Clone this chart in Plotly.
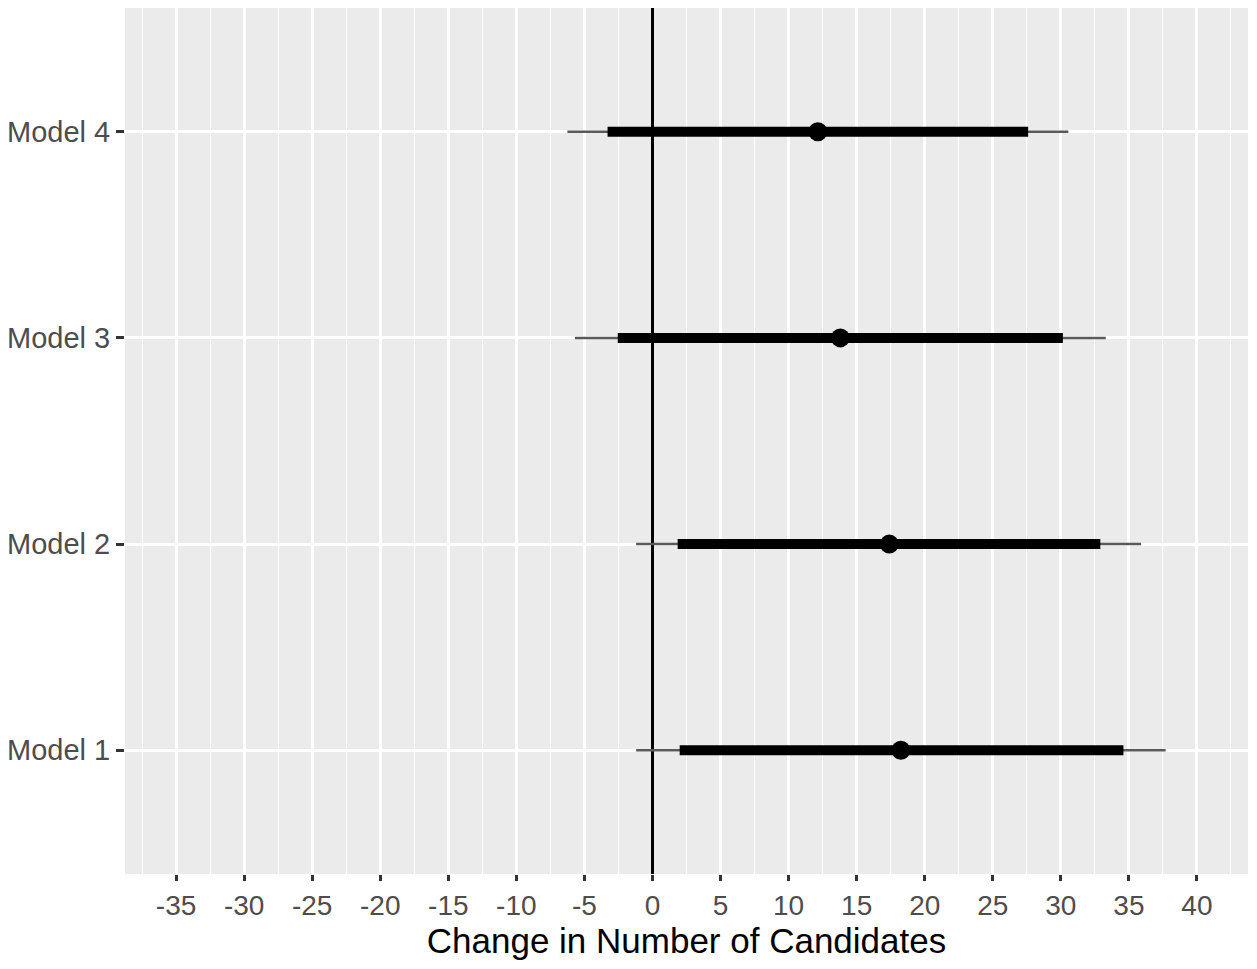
import plotly.graph_objects as go

models = ["Model 1", "Model 2", "Model 3", "Model 4"]
estimate = [18.25, 17.4, 13.8, 12.15]
lo_inner = [2.0, 1.85, -2.55, -3.3]
hi_inner = [34.6, 32.9, 30.15, 27.6]
lo_outer = [-1.2, -1.2, -5.7, -6.25]
hi_outer = [37.7, 35.9, 33.3, 30.55]
x_ticks = list(range(-35, 45, 5))

def segs(lo, hi):
    xs, ys = [], []
    for m, a, b in zip(models, lo, hi):
        xs += [a, b, None]
        ys += [m, m, None]
    return xs, ys

fig = go.Figure()
xo, yo = segs(lo_outer, hi_outer)
fig.add_trace(go.Scatter(x=xo, y=yo, mode="lines",
                         line=dict(color="#5a5a5a", width=2.5), showlegend=False))
xi, yi = segs(lo_inner, hi_inner)
fig.add_trace(go.Scatter(x=xi, y=yi, mode="lines",
                         line=dict(color="black", width=10), showlegend=False))
fig.add_trace(go.Scatter(x=estimate, y=models, mode="markers",
                         marker=dict(color="black", size=19), showlegend=False))

fig.update_layout(
    width=1241, height=953,
    margin=dict(l=117, r=1, t=0, b=87),
    paper_bgcolor="white", plot_bgcolor="#ebebeb",
    font=dict(family="Liberation Sans, Arial, sans-serif", color="#4d4d4d"),
)
fig.update_xaxes(
    range=[-38.75, 43.75], tickmode="array", tickvals=x_ticks,
    ticktext=[str(t) for t in x_ticks],
    showgrid=True, gridcolor="white", gridwidth=2.5,
    minor=dict(dtick=2.5, tick0=-37.5, showgrid=True, gridcolor="white", gridwidth=1.2),
    zeroline=True, zerolinecolor="black", zerolinewidth=2.8,
    ticks="outside", ticklen=6, tickwidth=2.5, tickcolor="#333333",
    tickfont=dict(size=28, color="#4d4d4d"),
    title=dict(text="Change in Number of Candidates", font=dict(size=35, color="black"), standoff=7),
    showline=False, automargin=False,
)
fig.update_yaxes(
    type="category", categoryorder="array", categoryarray=models,
    range=[-0.6, 3.6],
    showgrid=True, gridcolor="white", gridwidth=2.5, zeroline=False,
    ticks="outside", ticklen=8, tickwidth=2.5, tickcolor="#333333",
    tickfont=dict(size=29, color="#4d4d4d"),
    showline=False, automargin=False,
)
fig.write_html("out.html")
